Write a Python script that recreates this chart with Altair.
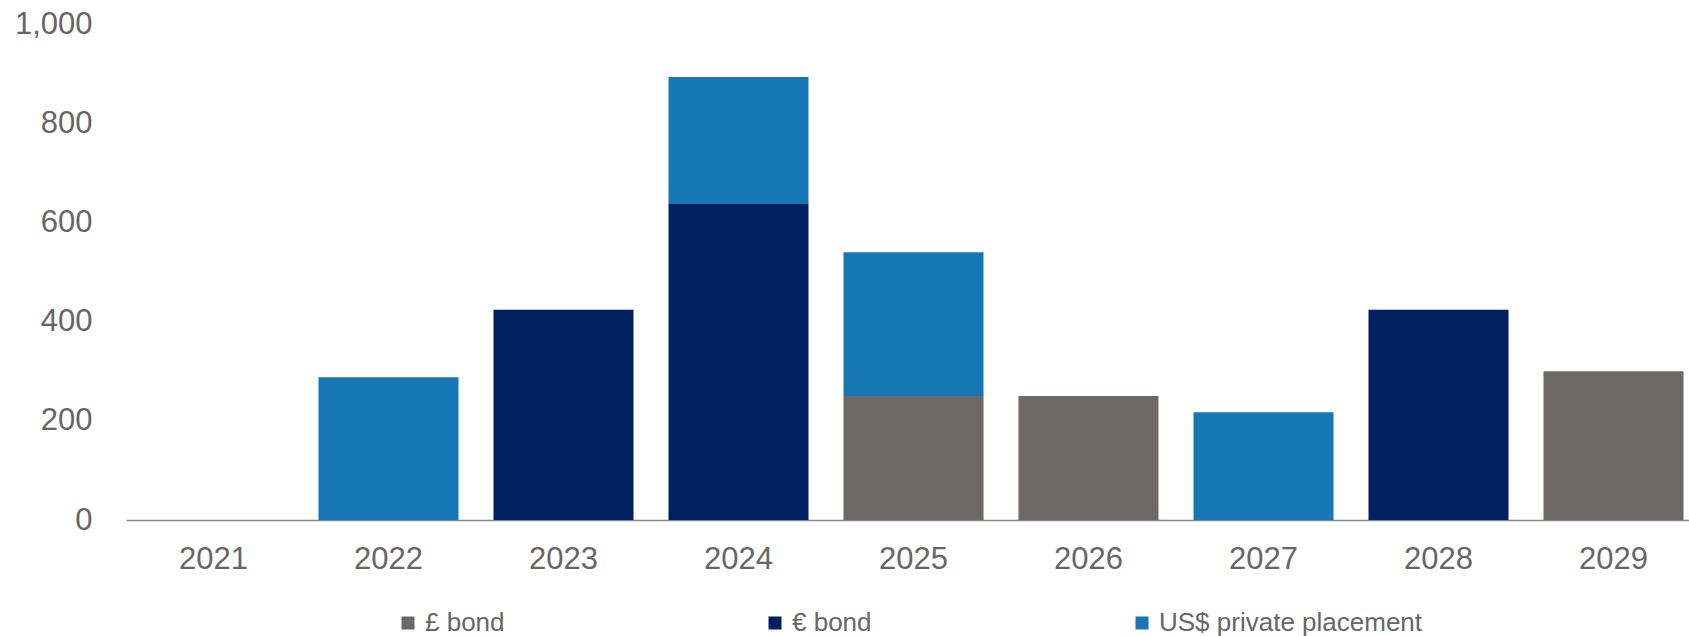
import altair as alt
import pandas as pd

years = ["2021", "2022", "2023", "2024", "2025", "2026", "2027", "2028", "2029"]
series = ["£ bond", "€ bond", "US$ private placement"]
gbp_bond = [0, 0, 0, 0, 250, 250, 0, 0, 300]
eur_bond = [0, 0, 424, 637, 0, 0, 0, 424, 0]
usd_pp = [0, 288, 0, 256, 290, 0, 217, 0, 0]
colors = ["#6d6865", "#00205f", "#1777b4"]
y_ticks = [0, 200, 400, 600, 800, 1000]

rows = []
for i, y in enumerate(years):
    for k, (name, vals) in enumerate(zip(series, [gbp_bond, eur_bond, usd_pp])):
        if vals[i] > 0:
            rows.append({"year": y, "series": name, "value": vals[i], "order": k})
df = pd.DataFrame(rows)

FONT = "Liberation Sans"
GREY = "#686664"

chart = (
    alt.Chart(df)
    .mark_bar()
    .encode(
        x=alt.X(
            "year:N",
            scale=alt.Scale(domain=years, paddingInner=0.2, paddingOuter=0.1, range=[0, 1575]),
            axis=alt.Axis(
                title=None,
                labelAngle=0,
                labelFont=FONT,
                labelFontSize=31,
                labelColor=GREY,
                labelPadding=24,
                ticks=False,
                domainColor="#8a8887",
                domainWidth=1.5,
            ),
        ),
        y=alt.Y(
            "value:Q",
            stack="zero",
            scale=alt.Scale(domain=[0, 1000], nice=False),
            axis=alt.Axis(
                title=None,
                values=y_ticks,
                format=",.0f",
                labelFont=FONT,
                labelFontSize=31,
                labelColor=GREY,
                labelPadding=34,
                ticks=False,
                domain=False,
                grid=False,
            ),
        ),
        color=alt.Color(
            "series:N",
            scale=alt.Scale(domain=series, range=colors),
            legend=alt.Legend(
                title=None,
                orient="none",
                legendX=269,
                legendY=586,
                direction="horizontal",
                columns=3,
                gridAlign="all",
                columnPadding=73,
                symbolType="square",
                symbolSize=169,
                symbolStrokeWidth=0,
                labelFont=FONT,
                labelFontSize=26,
                labelColor=GREY,
                labelOffset=4,
                labelLimit=600,
                padding=0,
            ),
        ),
        order=alt.Order("order:Q"),
    )
    .properties(
        width=1563,
        height=496,
        background="white",
        autosize=alt.AutoSizeParams(type="none"),
        padding={"left": 126, "top": 24, "right": 0, "bottom": 116},
    )
    .configure_view(stroke="transparent", strokeWidth=0)
)

chart.save("out.html", embed_options={"renderer": "svg", "actions": False})
